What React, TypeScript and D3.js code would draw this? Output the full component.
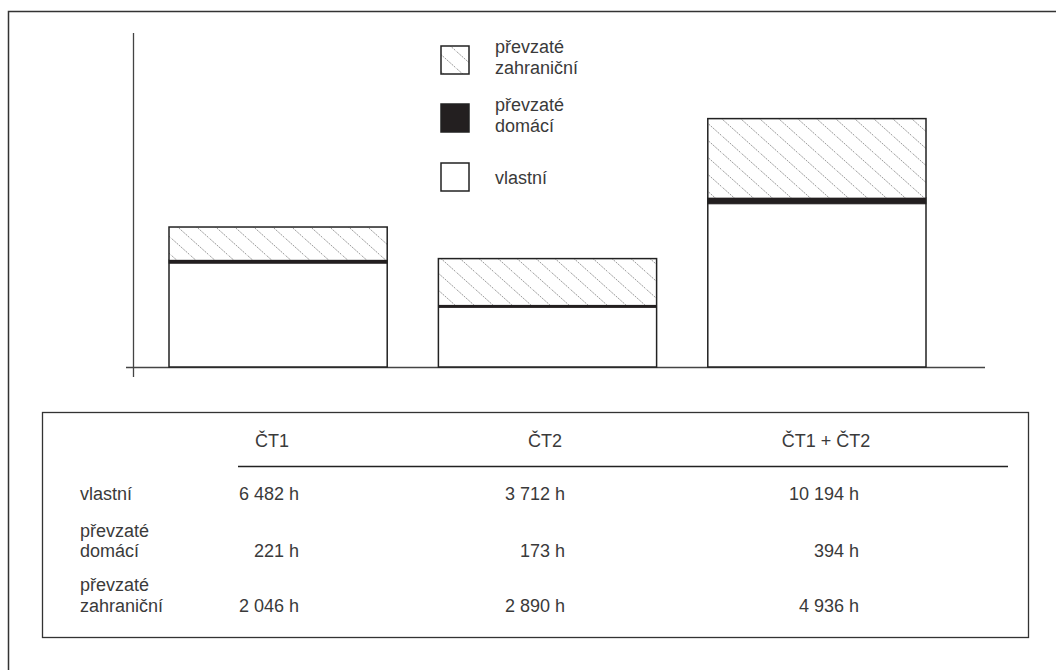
import React from "react";
import * as d3 from "d3";

const categories = ["ČT1", "ČT2", "ČT1 + ČT2"];
const vlastni = [6482, 3712, 10194];
const domaci = [221, 173, 394];
const zahranicni = [2046, 2890, 4936];
const rowLabels = [["vlastní"], ["převzaté", "domácí"], ["převzaté", "zahraniční"]];
const legendLabels = [["převzaté", "zahraniční"], ["převzaté", "domácí"], ["vlastní"]];

const W = 1056;
const H = 670;
const FONT = "'Liberation Sans', Arial, Helvetica, sans-serif";
const INK = "#222";
const TXT = "#3a3a3a";

const locale = d3.formatLocale({ decimal: ",", thousands: " ", grouping: [3], currency: ["", ""] });
const fmt = locale.format(",d");

export default function App() {
  const x = d3.scaleBand<string>().domain(categories).range([169, 926]).paddingInner(0.19).paddingOuter(0);
  const y = d3.scaleLinear().domain([0, 20875]).range([367, 33]);

  const rows = categories.map((c, i) => ({ cat: c, vlastni: vlastni[i], domaci: domaci[i], zahranicni: zahranicni[i] }));
  const stack = d3.stack<any>().keys(["vlastni", "domaci", "zahranicni"]);
  const layers = stack(rows);
  const fills = ["#fff", "#231f20", "url(#hatch)"];

  const colCenters = [272, 545, 826];
  const valueRight = [299, 565, 859];
  const rowBase = [[500], [537, 557], [591, 612]];
  const series = [vlastni, domaci, zahranicni];

  const legendY = [46, 104, 163];

  return (
    <svg width={W} height={H} style={{ position: "absolute", left: 0, top: 0, background: "#fff" }} fontFamily={FONT}>
      <defs>
        <pattern id="hatch" patternUnits="userSpaceOnUse" width={19} height={17}>
          <rect width={19} height={17} fill="#fff" />
          <path d="M-19,-17 L38,34 M0,-17 L38,17 M-19,0 L19,34" stroke="#8a8a8a" strokeWidth={0.9} strokeDasharray="2,1" />
        </pattern>
      </defs>
      <rect x={8.5} y={11.5} width={1200} height={900} fill="none" stroke="#333" strokeWidth={1.5} />

      {/* axes */}
      <line x1={133.5} x2={133.5} y1={33} y2={377} stroke="#444" strokeWidth={1.3} />
      <line x1={126} x2={985} y1={367.5} y2={367.5} stroke="#444" strokeWidth={1.3} />

      {/* bars */}
      {layers.map((layer, li) => (
        <g key={li}>
          {layer.map((d, i) => (
            <rect
              key={i}
              x={x(categories[i])!}
              y={y(d[1])}
              width={x.bandwidth()}
              height={y(d[0]) - y(d[1])}
              fill={fills[li]}
              stroke={li === 1 ? "#231f20" : "none"}
              strokeWidth={li === 1 ? 0.8 : 0}
            />
          ))}
        </g>
      ))}
      {categories.map((c, i) => {
        const total = vlastni[i] + domaci[i] + zahranicni[i];
        return (
          <rect key={c} x={x(c)!} y={y(total)} width={x.bandwidth()} height={y(0) - y(total)} fill="none" stroke={INK} strokeWidth={1.5} />
        );
      })}

      {/* legend */}
      {legendLabels.map((lab, i) => {
        const f = [fills[2], fills[1], fills[0]][i];
        const sy = legendY[i];
        return (
          <g key={i}>
            <rect x={441} y={sy} width={28} height={28} fill={f} stroke={INK} strokeWidth={1.5} />
            {lab.map((t, j) => (
              <text key={j} x={495} y={lab.length === 2 ? sy + 7 + j * 21 : sy + 21} fontSize={18} fill={TXT}>
                {t}
              </text>
            ))}
          </g>
        );
      })}

      {/* table */}
      <rect x={42.5} y={412.5} width={986} height={225} fill="none" stroke="#333" strokeWidth={1.3} />
      {categories.map((c, i) => (
        <text key={c} x={colCenters[i]} y={447} textAnchor="middle" fontSize={18} fill={TXT}>
          {c}
        </text>
      ))}
      <line x1={238} x2={1008} y1={466.5} y2={466.5} stroke={INK} strokeWidth={1.3} />
      {rowLabels.map((lab, r) => (
        <g key={r}>
          {lab.map((t, j) => (
            <text key={j} x={80} y={rowBase[r][j]} fontSize={18} fill={TXT}>
              {t}
            </text>
          ))}
          {categories.map((c, ci) => (
            <text key={c} x={valueRight[ci]} y={rowBase[r][lab.length - 1]} textAnchor="end" fontSize={18} fill={TXT}>
              {fmt(series[r][ci])} h
            </text>
          ))}
        </g>
      ))}
    </svg>
  );
}
